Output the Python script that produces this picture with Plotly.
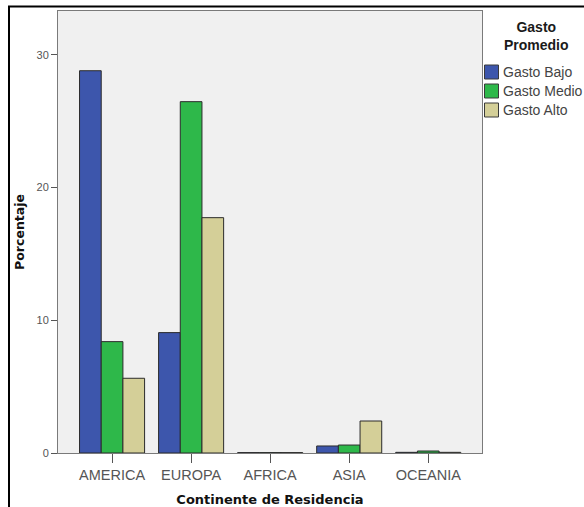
import plotly.graph_objects as go

categories = ["AMERICA", "EUROPA", "AFRICA", "ASIA", "OCEANIA"]
gasto_bajo = [28.8, 9.07, 0.03, 0.53, 0.05]
gasto_medio = [8.39, 26.47, 0.03, 0.60, 0.15]
gasto_alto = [5.63, 17.73, 0.03, 2.41, 0.05]
series_names = ["Gasto Bajo", "Gasto Medio", "Gasto Alto"]
y_ticks = [0, 10, 20, 30]
legend_title = "Gasto<br>Promedio"

colors = ["#3D56AC", "#2EB84A", "#D4CF98"]
W, H = 584, 507
L, R, T, B = 58, 482, 11, 453

fig = go.Figure()
for name, vals, c in zip(series_names, [gasto_bajo, gasto_medio, gasto_alto], colors):
    fig.add_trace(go.Bar(
        x=categories, y=vals, name=name,
        marker=dict(color=c, line=dict(color="#2b2b2b", width=1)),
        showlegend=False,
    ))

def px(x):
    return (x - L) / (R - L)

def py(y):
    return (B - y) / (B - T)

fig.update_layout(
    width=W, height=H,
    margin=dict(l=L, r=W - R, t=T, b=H - B, pad=0, autoexpand=False),
    paper_bgcolor="white",
    plot_bgcolor="#F0F0F0",
    barmode="group",
    bargap=0.177,
    bargroupgap=0,
    font=dict(family="Liberation Sans, Arial, sans-serif", size=12, color="#555555"),
    xaxis=dict(
        range=[-0.684, 4.68],
        showline=True, linecolor="#7a7a7a", linewidth=1, mirror=True,
        ticks="outside", ticklen=9, tickcolor="#555555", tickwidth=1,
        tickfont=dict(size=14.5, color="#555555"),
        showgrid=False,
        title=dict(text="<b>Continente de Residencia</b>",
                   font=dict(size=13, color="#111111", family="DejaVu Sans, sans-serif"),
                   standoff=13),
    ),
    yaxis=dict(
        range=[0, 33.3],
        tickvals=y_ticks,
        showline=True, linecolor="#7a7a7a", linewidth=1, mirror=True,
        ticks="outside", ticklen=6, tickcolor="#555555", tickwidth=1,
        tickfont=dict(size=11, color="#555555"),
        showgrid=False, zeroline=False,
        title=dict(text="<b>Porcentaje</b>",
                   font=dict(size=12.5, color="#111111", family="DejaVu Sans, sans-serif"),
                   standoff=9),
    ),
    showlegend=False,
)

# custom legend (swatches + labels) to match the reference layout
fig.add_annotation(xref="paper", yref="paper", x=px(536), y=py(35.5),
                   text="<b>" + legend_title + "</b>", showarrow=False,
                   xanchor="center", yanchor="middle", align="center",
                   font=dict(size=14, color="#1a1a1a", family="Liberation Sans, Arial, sans-serif"))
row_y = [72, 91, 110]
for name, c, yy in zip(series_names, colors, row_y):
    fig.add_shape(type="rect", xref="paper", yref="paper",
                  x0=px(484.5), x1=px(498.5), y0=py(yy - 7), y1=py(yy + 7),
                  fillcolor=c, line=dict(color="#3a3a3a", width=1))
    fig.add_annotation(xref="paper", yref="paper", x=px(501), y=py(yy),
                       text=name, showarrow=False, xanchor="left", yanchor="middle",
                       font=dict(size=14, color="#444444"))

# outer black frame (top and left edges of the cropped screenshot)
fig.add_shape(type="line", xref="paper", yref="paper",
              x0=px(8), x1=px(584), y0=py(6.5), y1=py(6.5),
              line=dict(color="black", width=2))
fig.add_shape(type="line", xref="paper", yref="paper",
              x0=px(9), x1=px(9), y0=py(6), y1=py(507),
              line=dict(color="black", width=2))

fig.write_html("out.html",
               config={"displayModeBar": False},
               post_script="document.body.style.margin='0';document.body.style.overflow='hidden';")
